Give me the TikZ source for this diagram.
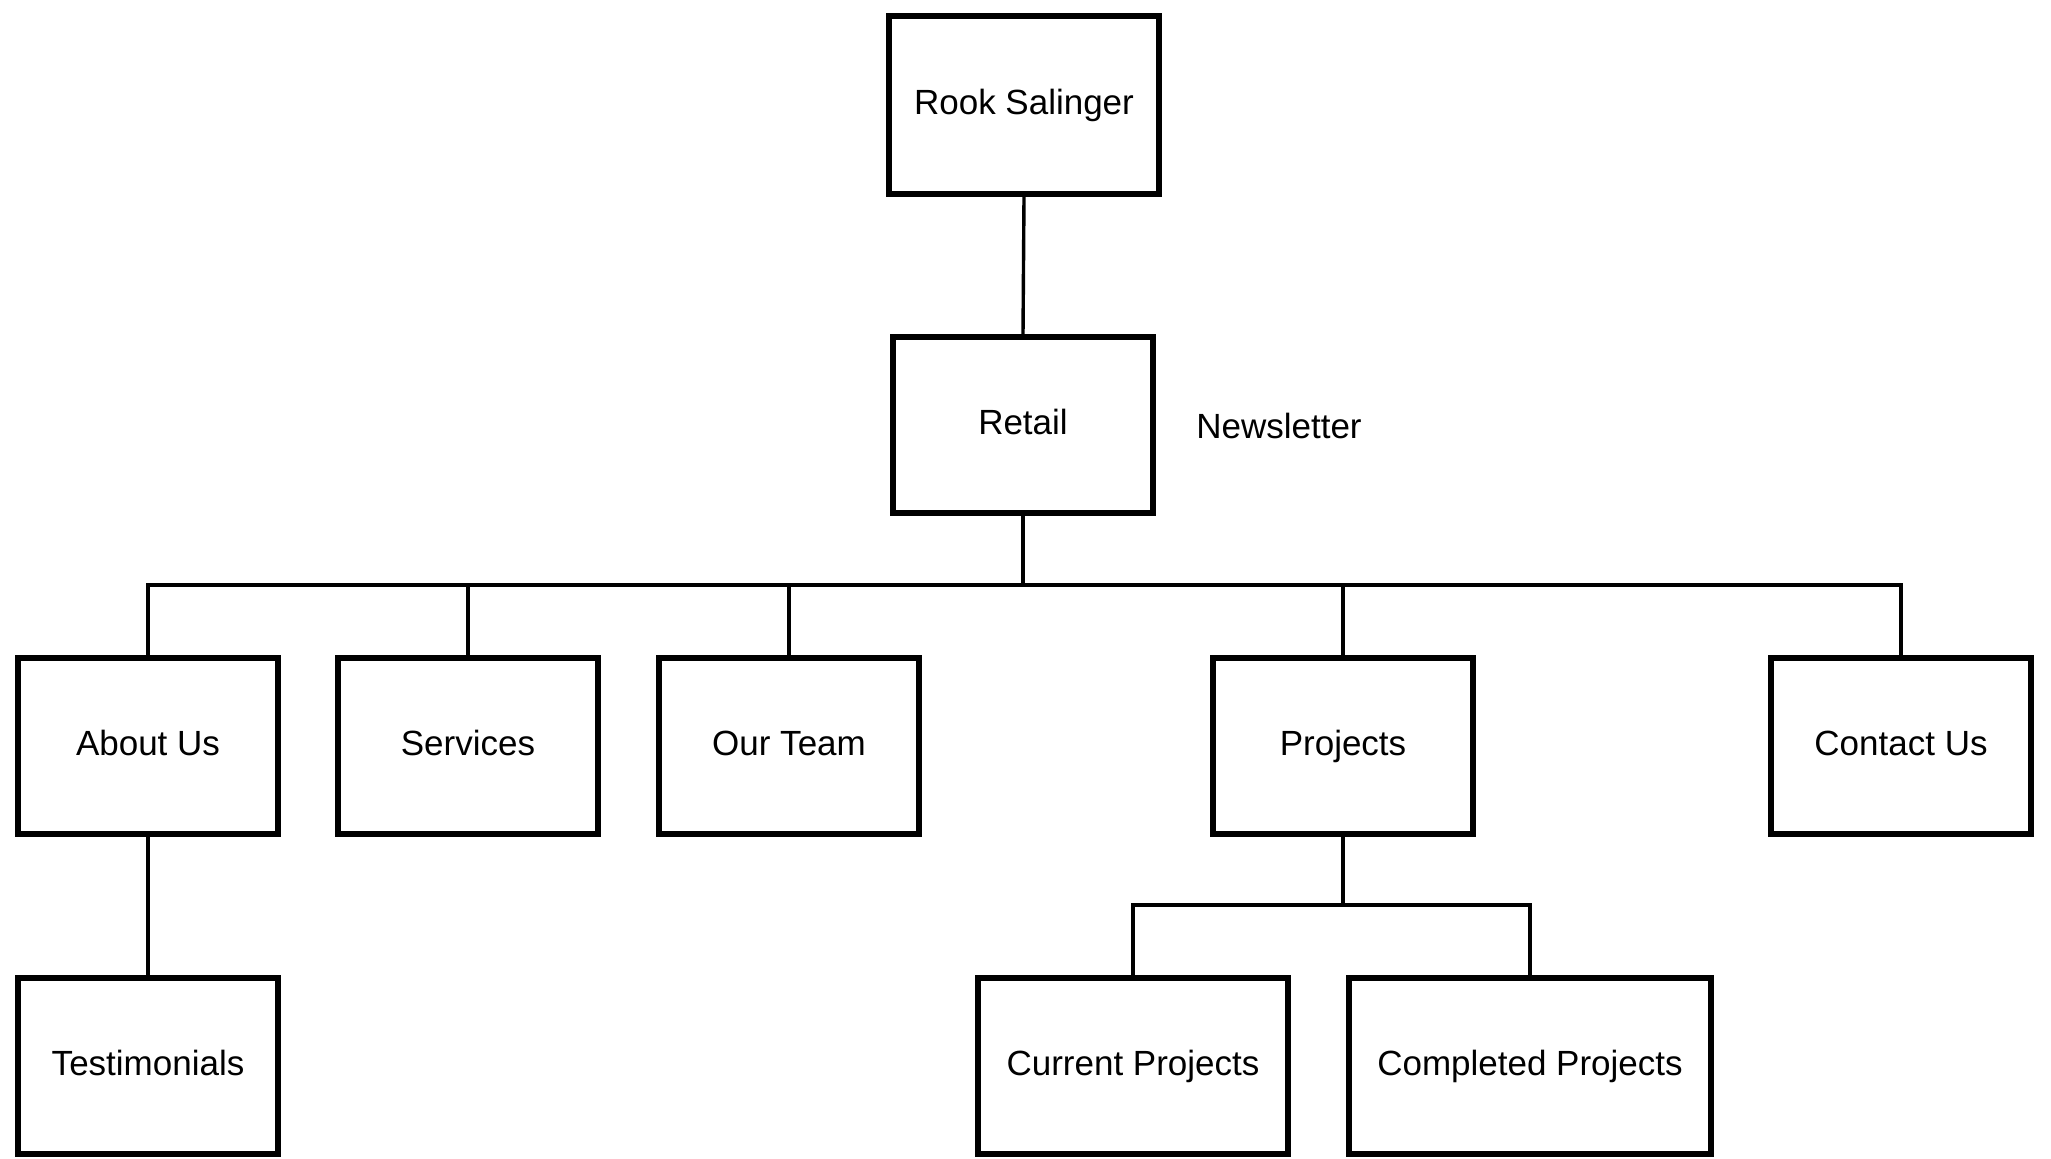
\documentclass[tikz,border=0pt]{standalone}
\usepackage{fontspec}
\setmainfont{Liberation Sans}
\begin{document}
\begin{tikzpicture}[x=0.5pt,y=-0.5pt,
  box/.style={draw=black,line width=2.8pt,fill=white,inner sep=0pt,
    text height=12.5pt,text depth=3.5pt,
    minimum width=130pt,minimum height=88pt,font=\fontsize{17.5}{20}\selectfont},
  plain/.style={inner sep=0pt,text height=12.5pt,text depth=3.5pt,font=\fontsize{17.5}{20}\selectfont},
  link/.style={draw=black,line width=1.7pt}]
\useasboundingbox (0,0) rectangle (2051,1158);
\node[box,minimum width=135pt,minimum height=89pt] (rook) at (1024,105) {Rook Salinger};
\node[box] (retail) at (1023,425) {Retail};
\node[plain] (news) at (1279,429) {Newsletter};
\node[box] (about) at (148,746) {About Us};
\node[box] (serv) at (468,746) {Services};
\node[box] (team) at (789,746) {Our Team};
\node[box] (proj) at (1343,746) {Projects};
\node[box] (contact) at (1901,746) {Contact Us};
\node[box] (testi) at (148,1066) {Testimonials};
\node[box,minimum width=155pt] (cur) at (1133,1066) {Current Projects};
\node[box,minimum width=181pt] (comp) at (1530,1066) {Completed Projects};
\coordinate (bus) at (1023,585);
\coordinate (pbus) at (1343,905);
\draw[link] (rook.south) -- (retail.north);
\draw[link] (retail.south) -- (bus);
\draw[link] (about.north) |- (contact.north |- bus) -- (contact.north);
\draw[link] (serv.north) -- (serv.north |- bus);
\draw[link] (team.north) -- (team.north |- bus);
\draw[link] (proj.north) -- (proj.north |- bus);
\draw[link] (about.south) -- (testi.north);
\draw[link] (proj.south) -- (pbus);
\draw[link] (cur.north) |- (comp.north |- pbus) -- (comp.north);
\end{tikzpicture}
\end{document}
